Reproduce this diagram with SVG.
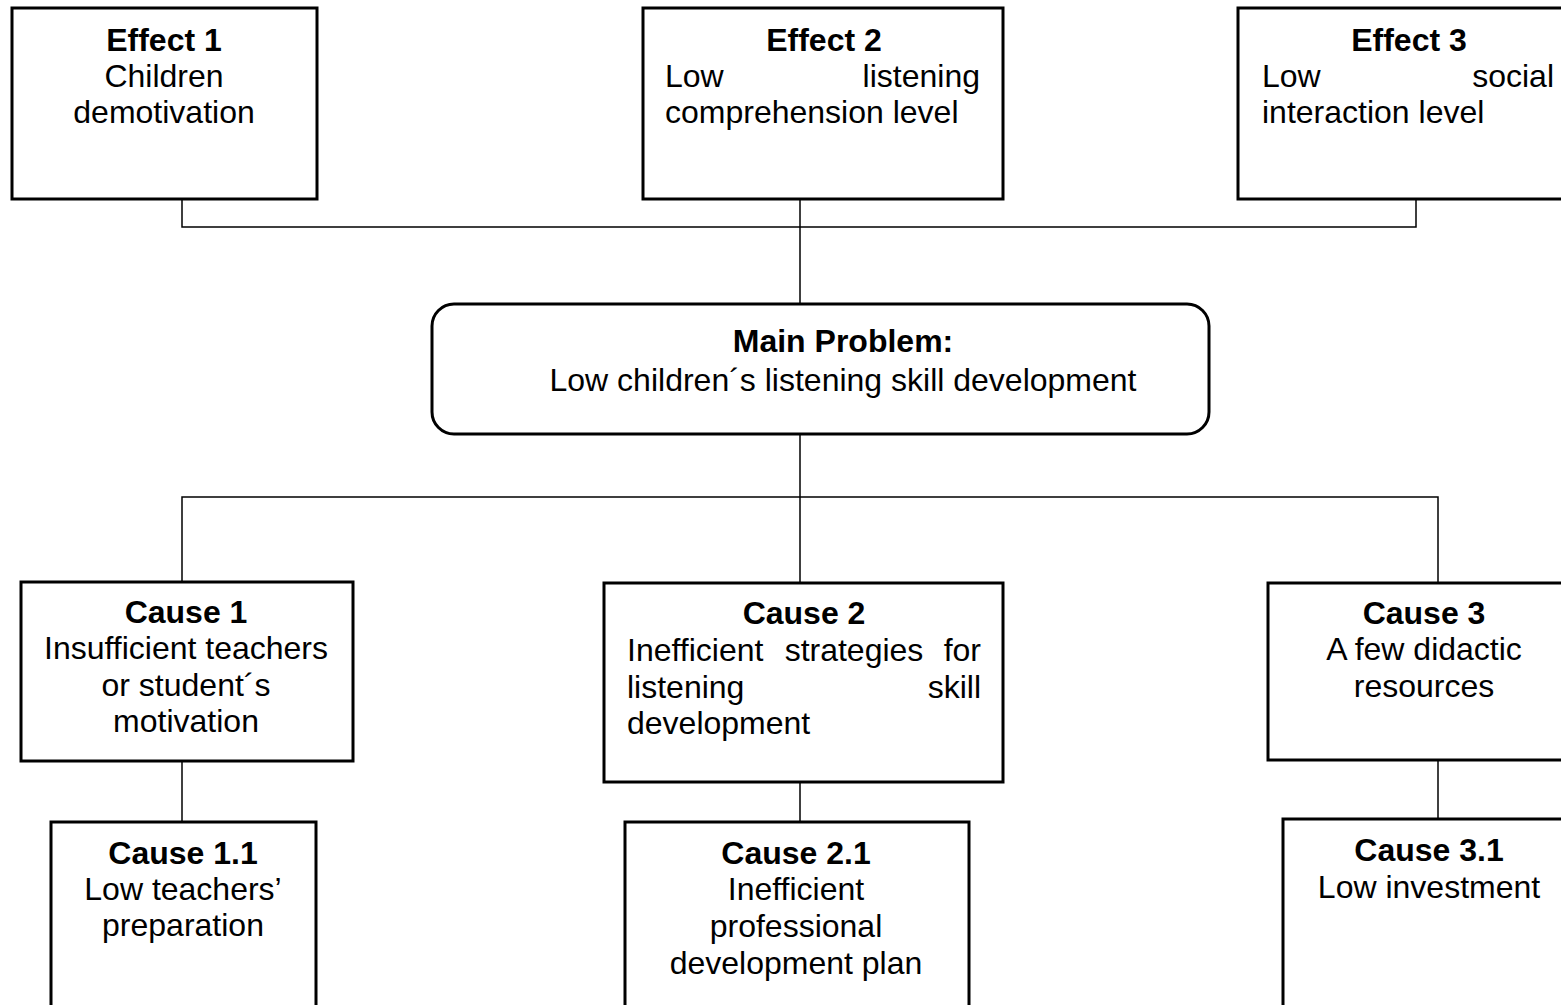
<svg xmlns="http://www.w3.org/2000/svg" width="1561" height="1005" viewBox="0 0 1561 1005">
<style>
.box{fill:#fff;stroke:#000;stroke-width:3}
.ln{fill:none;stroke:#000;stroke-width:1.5}
text{font-family:"Liberation Sans",Arial,sans-serif;font-size:32px;fill:#000}
.b{font-weight:bold}
.c{text-anchor:middle}
.e{text-anchor:end}
.mp{font-size:32px}
</style>
<rect width="1561" height="1005" fill="#fff"/>
<g id="connectors">
<path class="ln" d="M182,199 V227 H1416 V199"/>
<path class="ln" d="M800,199 V305"/>
<path class="ln" d="M800,433 V497"/>
<path class="ln" d="M182,582 V497 H1438 V583"/>
<path class="ln" d="M800,497 V583"/>
<path class="ln" d="M182,761 V822"/>
<path class="ln" d="M800,782 V822"/>
<path class="ln" d="M1438,760 V819"/>
</g>
<g id="effect1">
<rect class="box" x="12" y="8" width="305" height="191"/>
<text class="b c" x="164" y="51">Effect 1</text>
<text class="c" x="164" y="87">Children</text>
<text class="c" x="164" y="123">demotivation</text>
</g>
<g id="effect2">
<rect class="box" x="643" y="8" width="360" height="191"/>
<text class="b c" x="824" y="51">Effect 2</text>
<text x="665" y="87">Low</text>
<text class="e" x="980" y="87">listening</text>
<text x="665" y="123">comprehension level</text>
</g>
<g id="effect3">
<rect class="box" x="1238" y="8" width="340" height="191"/>
<text class="b c" x="1409" y="51">Effect 3</text>
<text x="1262" y="87">Low</text>
<text class="e" x="1554" y="87">social</text>
<text x="1262" y="123">interaction level</text>
</g>
<g id="main">
<rect class="box" x="432" y="304" width="777" height="130" rx="22" ry="22"/>
<text class="b c mp" x="843" y="352">Main Problem:</text>
<text class="c mp" x="843" y="391">Low children´s listening skill development</text>
</g>
<g id="cause1">
<rect class="box" x="21" y="582" width="332" height="179"/>
<text class="b c" x="186" y="623">Cause 1</text>
<text class="c" x="186" y="659">Insufficient teachers</text>
<text class="c" x="186" y="696">or student´s</text>
<text class="c" x="186" y="732">motivation</text>
</g>
<g id="cause2">
<rect class="box" x="604" y="583" width="399" height="199"/>
<text class="b c" x="804" y="624">Cause 2</text>
<text x="627" y="661">Inefficient</text>
<text class="c" x="854" y="661">strategies</text>
<text class="e" x="981" y="661">for</text>
<text x="627" y="698">listening</text>
<text class="e" x="981" y="698">skill</text>
<text x="627" y="734">development</text>
</g>
<g id="cause3">
<rect class="box" x="1268" y="583" width="312" height="177"/>
<text class="b c" x="1424" y="624">Cause 3</text>
<text class="c" x="1424" y="660">A few didactic</text>
<text class="c" x="1424" y="697">resources</text>
</g>
<g id="cause11">
<rect class="box" x="51" y="822" width="265" height="200"/>
<text class="b c" x="183" y="864">Cause 1.1</text>
<text class="c" x="183" y="900">Low teachers’</text>
<text class="c" x="183" y="936">preparation</text>
</g>
<g id="cause21">
<rect class="box" x="625" y="822" width="344" height="200"/>
<text class="b c" x="796" y="864">Cause 2.1</text>
<text class="c" x="796" y="900">Inefficient</text>
<text class="c" x="796" y="937">professional</text>
<text class="c" x="796" y="974">development plan</text>
</g>
<g id="cause31">
<rect class="box" x="1283" y="819" width="292" height="200"/>
<text class="b c" x="1429" y="861">Cause 3.1</text>
<text class="c" x="1429" y="898">Low investment</text>
</g>
</svg>
